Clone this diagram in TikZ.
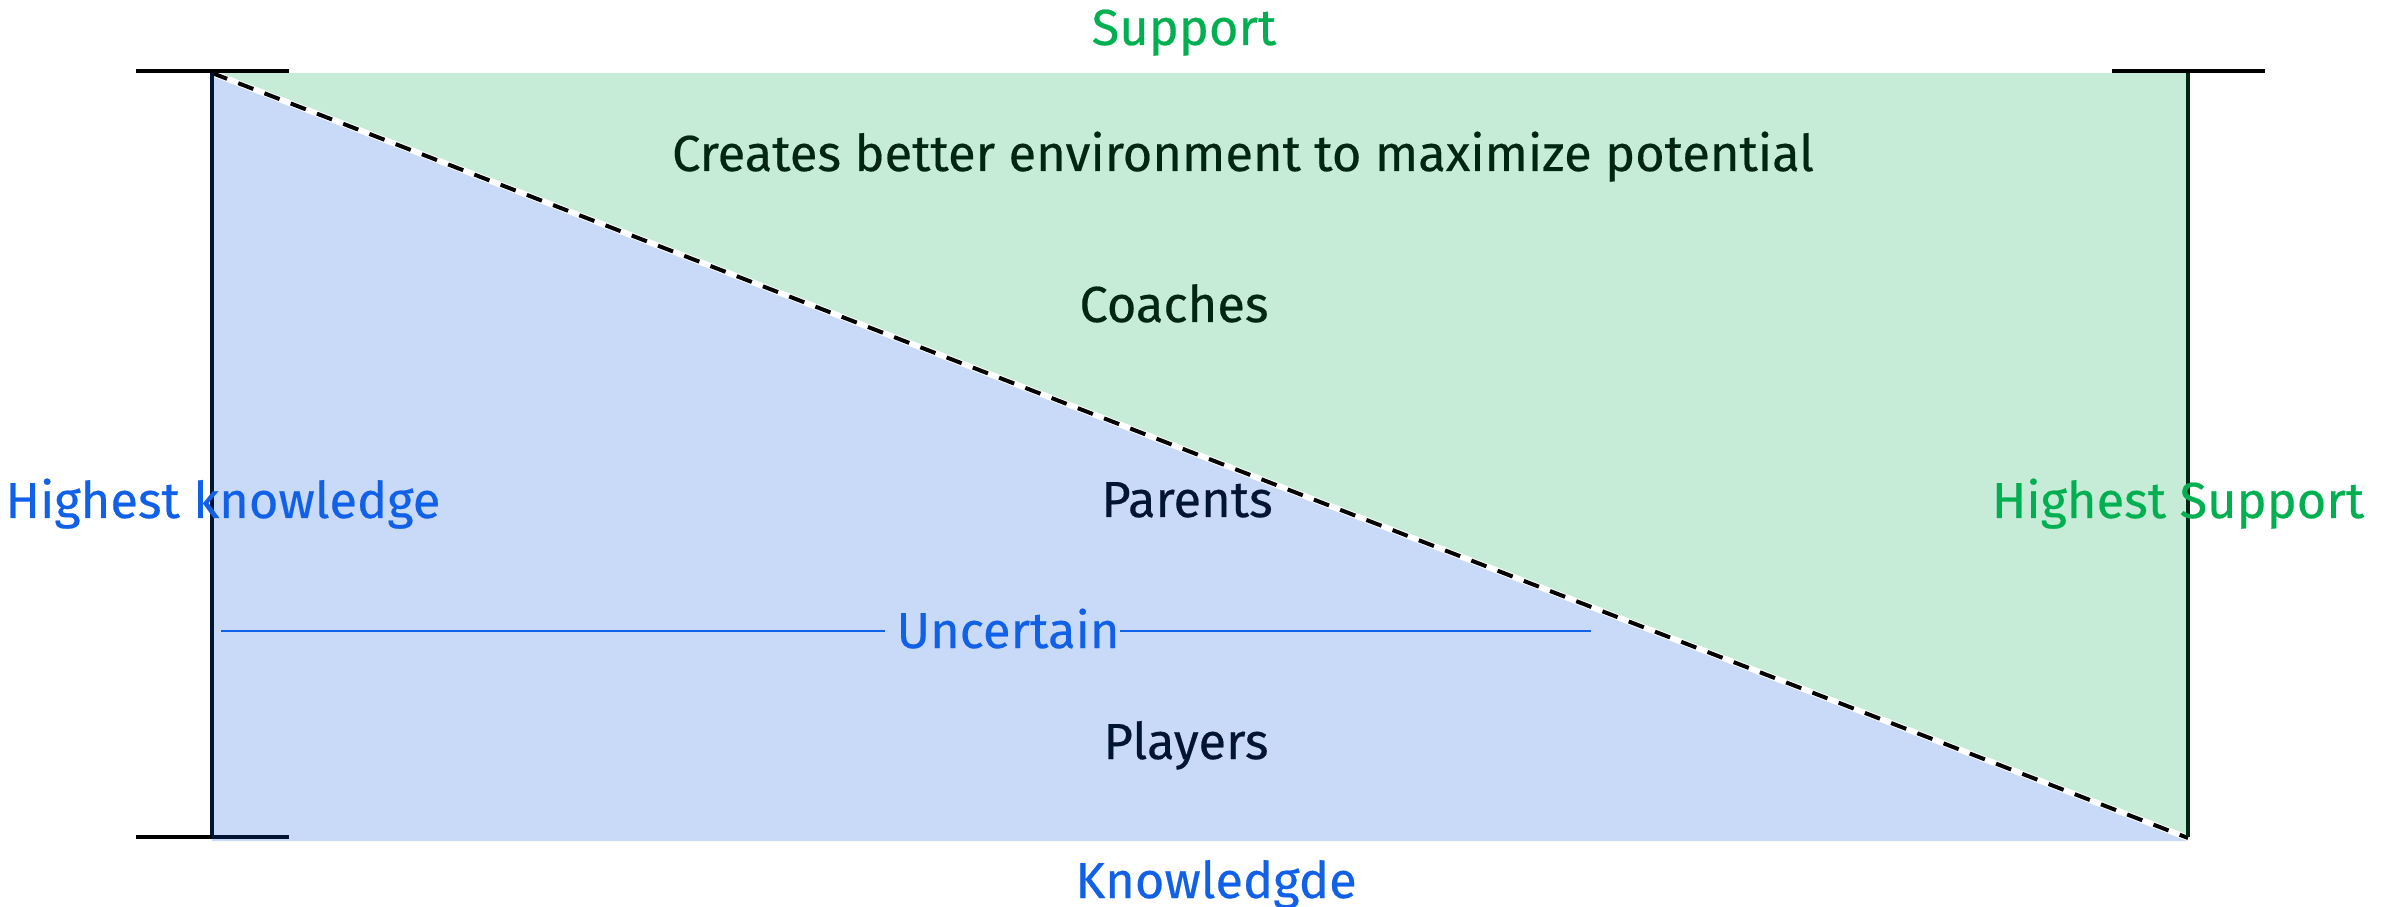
\documentclass[tikz,border=0pt]{standalone}
\usepackage{fontspec}
\setmainfont{Fira Sans}[FakeBold=0.35]
\definecolor{bluefill}{HTML}{C9DAF8}
\definecolor{greenfill}{HTML}{C6ECD8}
\definecolor{bluetext}{HTML}{1060E8}
\definecolor{greentext}{HTML}{00B050}
\definecolor{darkgreen}{HTML}{00260F}
\definecolor{darknavy}{HTML}{001433}
\begin{document}
\begin{tikzpicture}[x=0.01cm,y=-0.01cm,
  lbl/.style={font=\fontsize{14.4pt}{17pt}\selectfont, inner sep=0pt, anchor=base},
  tick/.style={line width=1.14pt},
  axis/.style={line width=1.14pt}]
\useasboundingbox (0,0) rectangle (2395,907);
\coordinate (tl) at (212,73);
\coordinate (tr) at (2188,73);
\coordinate (bl) at (212,841);
\coordinate (br) at (2188,841);
\coordinate (dend) at (2188,838);
\fill[bluefill] (tl) -- (bl) -- (br) -- cycle;
\fill[greenfill] (tl) -- (tr) -- (br) -- cycle;
\draw[white, line width=1.7pt] (tl) -- (dend);
\draw[black, line width=1.14pt, dash pattern=on 4.6pt off 3.4pt] (tl) -- (dend);
% axes
\coordinate (la) at (212,71);
\coordinate (lb) at (212,837);
\coordinate (ra) at (2188,71);
\coordinate (rb) at (2188,837);
\draw[axis, darknavy] (la) -- (lb);
\draw[axis, darkgreen] (ra) -- (rb);
\coordinate (t1a) at (136,71); \coordinate (t1b) at (289,71);
\coordinate (t2a) at (136,837); \coordinate (t2b) at (289,837);
\coordinate (t3a) at (2112,71); \coordinate (t3b) at (2265,71);
\draw[tick] (t1a) -- (t1b);
\draw[tick] (t2a) -- (la |- t2a);
\draw[tick, darknavy] (la |- t2a) -- (t2b);
\draw[tick] (t3a) -- (t3b);
% uncertain line
\node[lbl, text=bluetext] (unc) at (1008,648) {Uncertain};
\coordinate (ua) at (221,631);
\coordinate (ub) at (1591,631);
\draw[bluetext, line width=0.6pt] (ua) -- ([xshift=-3pt]ua -| unc.west);
\draw[bluetext, line width=0.6pt] (ub -| unc.east) -- (ub);
% labels
\node[lbl, text=greentext] (support) at (1184,45) {Support};
\node[lbl, text=darkgreen] (creates) at (1243,171) {Creates better environment to maximize potential};
\node[lbl, text=darkgreen] (coaches) at (1174,322) {Coaches};
\node[lbl, text=darknavy] (parents) at (1187,517) {Parents};
\node[lbl, text=darknavy] (players) at (1186,759) {Players};
\node[lbl, text=bluetext] (know) at (1216,898) {Knowledgde};
\node[lbl, text=bluetext] (hk) at (223,518) {Highest knowledge};
\node[lbl, text=greentext] (hs) at (2178,518) {Highest Support};
\end{tikzpicture}
\end{document}
